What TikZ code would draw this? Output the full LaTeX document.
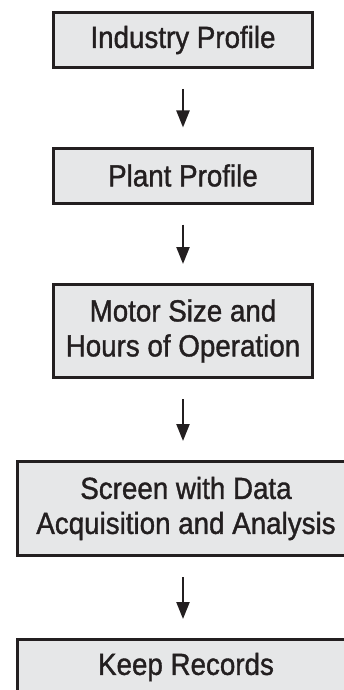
\documentclass[tikz,border=0pt]{standalone}
\usepackage{fontspec}
\setmainfont[FakeStretch=0.91,FakeBold=1.2]{Liberation Sans}
\usetikzlibrary{arrows.meta}
\definecolor{fond}{HTML}{E6E7E8}
\definecolor{trait}{HTML}{231F20}

\begin{document}
\begin{tikzpicture}[x=1pt,y=1pt]
  \tikzstyle{lien}=[-{Triangle[length=17pt,width=13pt]},line width=2.3pt,draw=trait,shorten <=20pt,shorten >=19pt]
\tikzset{etape/.style={draw=trait,line width=3pt,fill=fond,text=trait,
minimum width=#1,minimum height=55pt,inner sep=0pt,align=center,
font=\fontsize{30.5}{35}\selectfont},
etape/.default={259pt}}
\useasboundingbox (0,0) rectangle (344,-690);
\clip (0,0) rectangle (344,-690);

\node[etape] (A) at (183,-40){Industry Profile};
\node[etape] (B) at (183,-175.5){Plant Profile};
\node[etape,minimum height=93pt] (C) at (183,-331){Motor Size and\\Hours of Operation};
\node[etape=337pt,minimum height=94pt] (D) at (186,-508.5){Screen with Data\\Acquisition and Analysis};
\node[etape=337pt] (E) at (186,-667){Keep Records};

\draw[lien] (A) -- (B);
\draw[lien] (B) -- (C);
\draw[lien] (C.south) -- (C.south |- D.north);
\draw[lien] (C.south |- D.south) -- (C.south |- E.north);

  \end{tikzpicture}
\end{document}
